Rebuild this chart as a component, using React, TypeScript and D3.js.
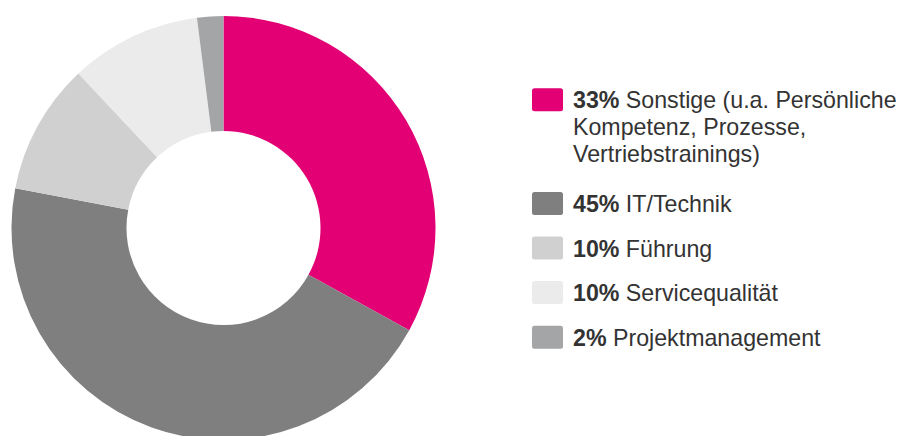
import React from 'react'
import * as d3 from 'd3'

const categories = ['Sonstige (u.a. Persönliche Kompetenz, Prozesse, Vertriebstrainings)', 'IT/Technik', 'Führung', 'Servicequalität', 'Projektmanagement']
const values = [33, 45, 10, 10, 2]
const colors = ['#e20074', '#7f7f7f', '#d0d0d0', '#ebebeb', '#a4a5a7']
// legend text lines (the first label wraps over three lines)
const legendLines = [
  ['Sonstige (u.a. Persönliche', 'Kompetenz, Prozesse,', 'Vertriebstrainings)'],
  ['IT/Technik'],
  ['Führung'],
  ['Servicequalität'],
  ['Projektmanagement'],
]

export default function App() {
  const width = 901
  const height = 436
  const cx = 223.5
  const cy = 228
  const outerR = 212
  const innerR = 97

  const pie = d3.pie<number>().sort(null).value(d => d)
  const arcs = pie(values)
  const arc = d3.arc<d3.PieArcDatum<number>>().innerRadius(innerR).outerRadius(outerR)

  // legend layout
  const lineH = 27
  const rowGap = 17.6
  const legendX = 532
  const textX = 573
  let y = 88.3
  const rows = categories.map((c, i) => {
    const top = y
    const n = legendLines[i].length
    y += n === 1 ? lineH + rowGap : n * lineH + 22.6
    return { top, i }
  })

  return (
    <svg width={width} height={height} style={{ position: 'absolute', left: 0, top: 0 }}
      fontFamily="'Liberation Sans', Arial, sans-serif">
      <rect width={width} height={height} fill="#fff" />
      <g transform={`translate(${cx},${cy})`}>
        {arcs.map((a, i) => (
          <path key={i} d={arc(a) || ''} fill={colors[i]} />
        ))}
      </g>
      <g>
        {rows.map(({ top, i }) => (
          <g key={i}>
            <rect x={legendX} y={top} width={31} height={23} rx={2.5} fill={colors[i]} />
            {legendLines[i].map((line, j) => (
              <text key={j} x={textX} y={top + 20 + j * lineH} fontSize={23.2} fill="#333">
                {j === 0 && <tspan fontWeight="bold">{values[i]}% </tspan>}
                {line}
              </text>
            ))}
          </g>
        ))}
      </g>
    </svg>
  )
}
